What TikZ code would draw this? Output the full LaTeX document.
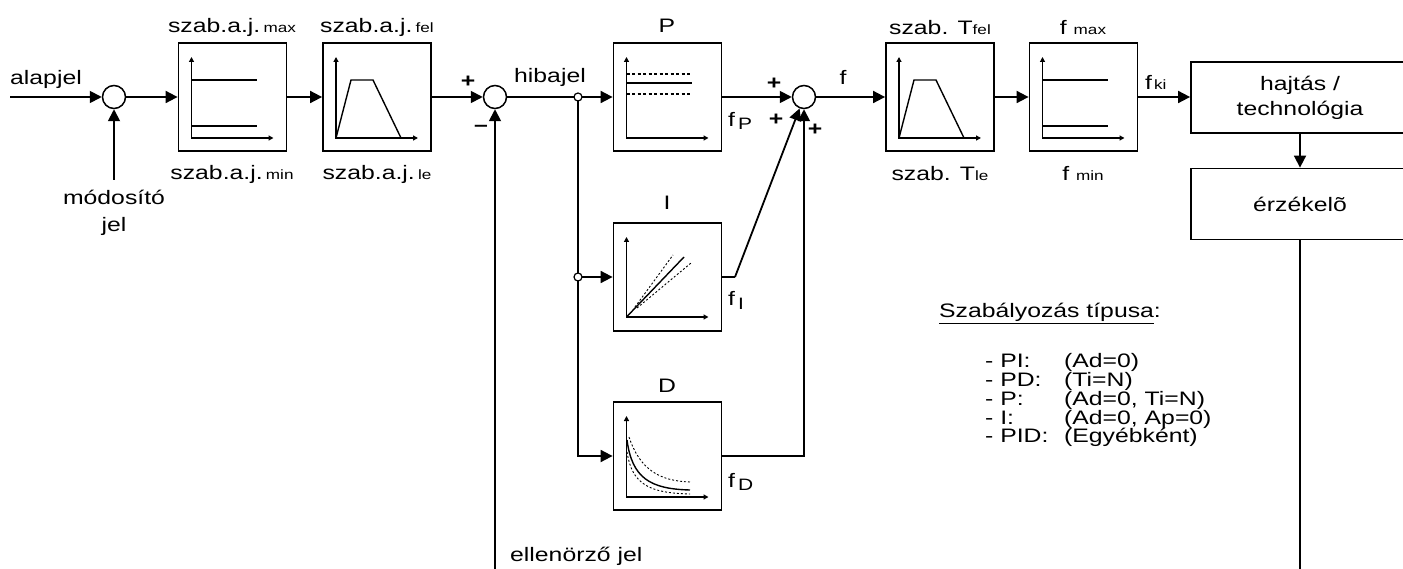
\documentclass[tikz,border=0pt]{standalone}
\usepackage{fontspec}
\setmainfont{Liberation Sans}[FakeStretch=1.27]
\usetikzlibrary{arrows.meta, calc}

\newcommand{\lblsize}{\fontsize{19.5}{25}\selectfont}
\newcommand{\subsize}{\fontsize{13.5}{15}\selectfont}
\newcommand{\idx}[1]{\raisebox{-3pt}{\fontsize{16.5}{18}\selectfont #1}}

\tikzset{
  block/.style={draw, line width=1.8pt, minimum width=108pt, minimum height=108pt, inner sep=0pt},
  plant/.style={draw, line width=1.8pt, minimum width=218pt, minimum height=71pt, align=center, font=\lblsize},
  sumnode/.style={draw, circle, line width=1.5pt, minimum size=23pt, inner sep=0pt},
  tap/.style={draw, circle, line width=1.2pt, fill=white, minimum size=8pt, inner sep=0pt},
  wire/.style={line width=1.8pt},
  sig/.style={wire, -{Triangle[length=12pt, width=12pt]}},
  axes/.style={line width=1.4pt, {Triangle[length=5pt, width=5pt]}-{Triangle[length=5pt, width=5pt]}},
  curve/.style={line width=1.4pt},
  band/.style={line width=1.2pt, dash pattern=on 3pt off 2.5pt},
  fine/.style={line width=0.9pt, dash pattern=on 2pt off 2pt},
  lbl/.style={font=\lblsize, inner sep=0pt},
  sign/.style={font=\lblsize\bfseries, inner sep=0pt},
}

\begin{document}
\begin{tikzpicture}[x=1pt, y=-1pt]
    \useasboundingbox (0,0) rectangle (1403,569);
    % summing points
    \node[sumnode] (s1) at (114,97) {};
    \node[sumnode] (s2) at (495,97) {};
    \node[sumnode] (s3) at (804,97) {};
    \coordinate (t1) at (578,97);
    \coordinate (t2) at (578,277);
    % blocks
    \node[block] (amax) at (232.5,97) {};
    \node[block] (afel) at (377,97) {};
    \node[block] (kp) at (667.5,97) {};
    \node[block] (ki) at (667.5,277) {};
    \node[block] (kd) at (667.5,456) {};
    \node[block] (tfel) at (940,97) {};
    \node[block] (flim) at (1083.5,97) {};
    \node[plant] (drive) at (1300,97.5) {hajtás /\\technológia};
    \node[plant] (sensor) at (1300,204) {érzékelõ};
    % free ends
    \coordinate (in) at (10,97);
    \coordinate (modin) at (114,180);
    \coordinate (fbin) at (495,569);
    \coordinate (fbout) at (1300,569);
    \coordinate (iknee) at (735,277);

    % signal path
    \draw[sig] (in) -- (s1);
    \draw[sig] (modin) -- (s1);
    \draw[sig] (s1) -- (amax);
    \draw[sig] (amax) -- (afel);
    \draw[sig] (afel) -- (s2);
    \draw[sig] (fbin) -- (s2);
    \draw[sig] (s2) -- (kp);
    \draw[sig] (t1) |- (kd.west);
    \draw[sig] (t2) -- (ki.west);
    \draw[sig] (kp) -- (s3);
    \draw[wire] (ki.east) -- (iknee);
    \draw[sig] (iknee) -- (s3);
    \draw[sig] (kd.east) -| (s3.south);
    \draw[sig] (s3) -- (tfel);
    \draw[sig] (tfel) -- (flim);
    \draw[sig] (flim.east) -- (flim.east -| drive.west);
    \draw[sig] (drive) -- (sensor);
    \draw[wire] (sensor) -- (fbout);
    \node[tap] at (t1) {};
    \node[tap] at (t2) {};

    % block characteristics
    \draw[axes] (191.5,57) -- (191.5,138) -- (273.5,138);
    \draw[curve] (191.5,80) -- (256.5,80) (191.5,126) -- (256.5,126);
    \draw[axes] (336,57) -- (336,138) -- (418,138);
    \draw[curve] (336,138) -- (351,80) -- (373,80) -- (401,138);
    \draw[axes] (626.5,57) -- (626.5,138) -- (708.5,138);
    \draw[curve] (626.5,83) -- (691.5,83);
    \draw[band] (626.5,74) -- (691.5,74) (626.5,94) -- (691.5,94);
    \draw[axes] (626.5,237) -- (626.5,317) -- (708.5,317);
    \draw[curve] (626.5,317) -- (684,257);
    \draw[fine] (635,307) -- (673,255) (637,308) -- (691,263);
    \draw[axes] (626.5,416) -- (626.5,497) -- (708.5,497);
    \draw[curve] (627,440) .. controls (632,478) and (650,489) .. (690,490);
    \draw[fine] (629,437) .. controls (640,470) and (660,481) .. (690,482);
    \draw[fine] (627,452) .. controls (632,485) and (650,493) .. (690,494);
    \draw[axes] (899,57) -- (899,138) -- (981,138);
    \draw[curve] (899,138) -- (914,80) -- (936,80) -- (964,138);
    \draw[axes] (1042.5,57) -- (1042.5,138) -- (1124.5,138);
    \draw[curve] (1042.5,80) -- (1107.5,80) (1042.5,126) -- (1107.5,126);

    % labels
    \node[lbl, anchor=base west] (alap) at (10,85) {alapjel};
    \node[lbl, anchor=base] (mod1) at (114,205) {módosító};
    \node[lbl, anchor=base] (mod2) at (114,232) {jel};
    \node[lbl, anchor=base] at (232,33) {szab.a.j.\,{\subsize max}};
    \node[lbl, anchor=base] at (232,180) {szab.a.j.\,{\subsize min}};
    \node[lbl, anchor=base] at (377,33) {szab.a.j.\,{\subsize fel}};
    \node[lbl, anchor=base] at (377,180) {szab.a.j.\,{\subsize le}};
    \node[sign] at (468,82) {+};
    \node[sign] at (481,128) {--};
    \node[lbl, anchor=base] (err) at (550,83) {hibajel};
    \node[lbl, anchor=base] at (667,33) {P};
    \node[lbl, anchor=base] at (667,210) {I};
    \node[lbl, anchor=base] at (667,392) {D};
    \node[lbl, anchor=base west] at (728,127) {f\hspace{3pt}\idx{P}};
    \node[lbl, anchor=base west] at (728,306) {f\hspace{3pt}\idx{I}};
    \node[lbl, anchor=base west] at (728,487) {f\hspace{3pt}\idx{D}};
    \node[sign] at (774,84) {+};
    \node[sign] at (776,120) {+};
    \node[sign] at (815,130) {+};
    \node[lbl, anchor=base] at (843,85) {f};
    \node[lbl, anchor=base] at (940,35) {szab. T{\subsize fel}};
    \node[lbl, anchor=base] at (940,181) {szab. T{\subsize le}};
    \node[lbl, anchor=base] at (1083,35) {f {\subsize max}};
    \node[lbl, anchor=base] at (1083,181) {f {\subsize min}};
    \node[lbl, anchor=base west] at (1145,90) {f\hspace{2pt}{\subsize ki}};
    \node[lbl, anchor=base west] (chk) at (510,561) {ellenörző jel};

    % controller types
    \node[lbl, anchor=base west] (types) at (939,318) {\underline{Szabályozás típusa}:};
    \foreach \kind/\cond/\yy in {PI:/{(Ad=0)}/367, PD:/{(Ti=N)}/386, P:/{(Ad=0, Ti=N)}/405, I:/{(Ad=0, Ap=0)}/424, PID:/{(Egyébként)}/442} {
        \node[lbl, anchor=base west] at (985,\yy) {- \kind};
        \node[lbl, anchor=base west] at (1064,\yy) {\cond};
    }
\end{tikzpicture}
\end{document}
